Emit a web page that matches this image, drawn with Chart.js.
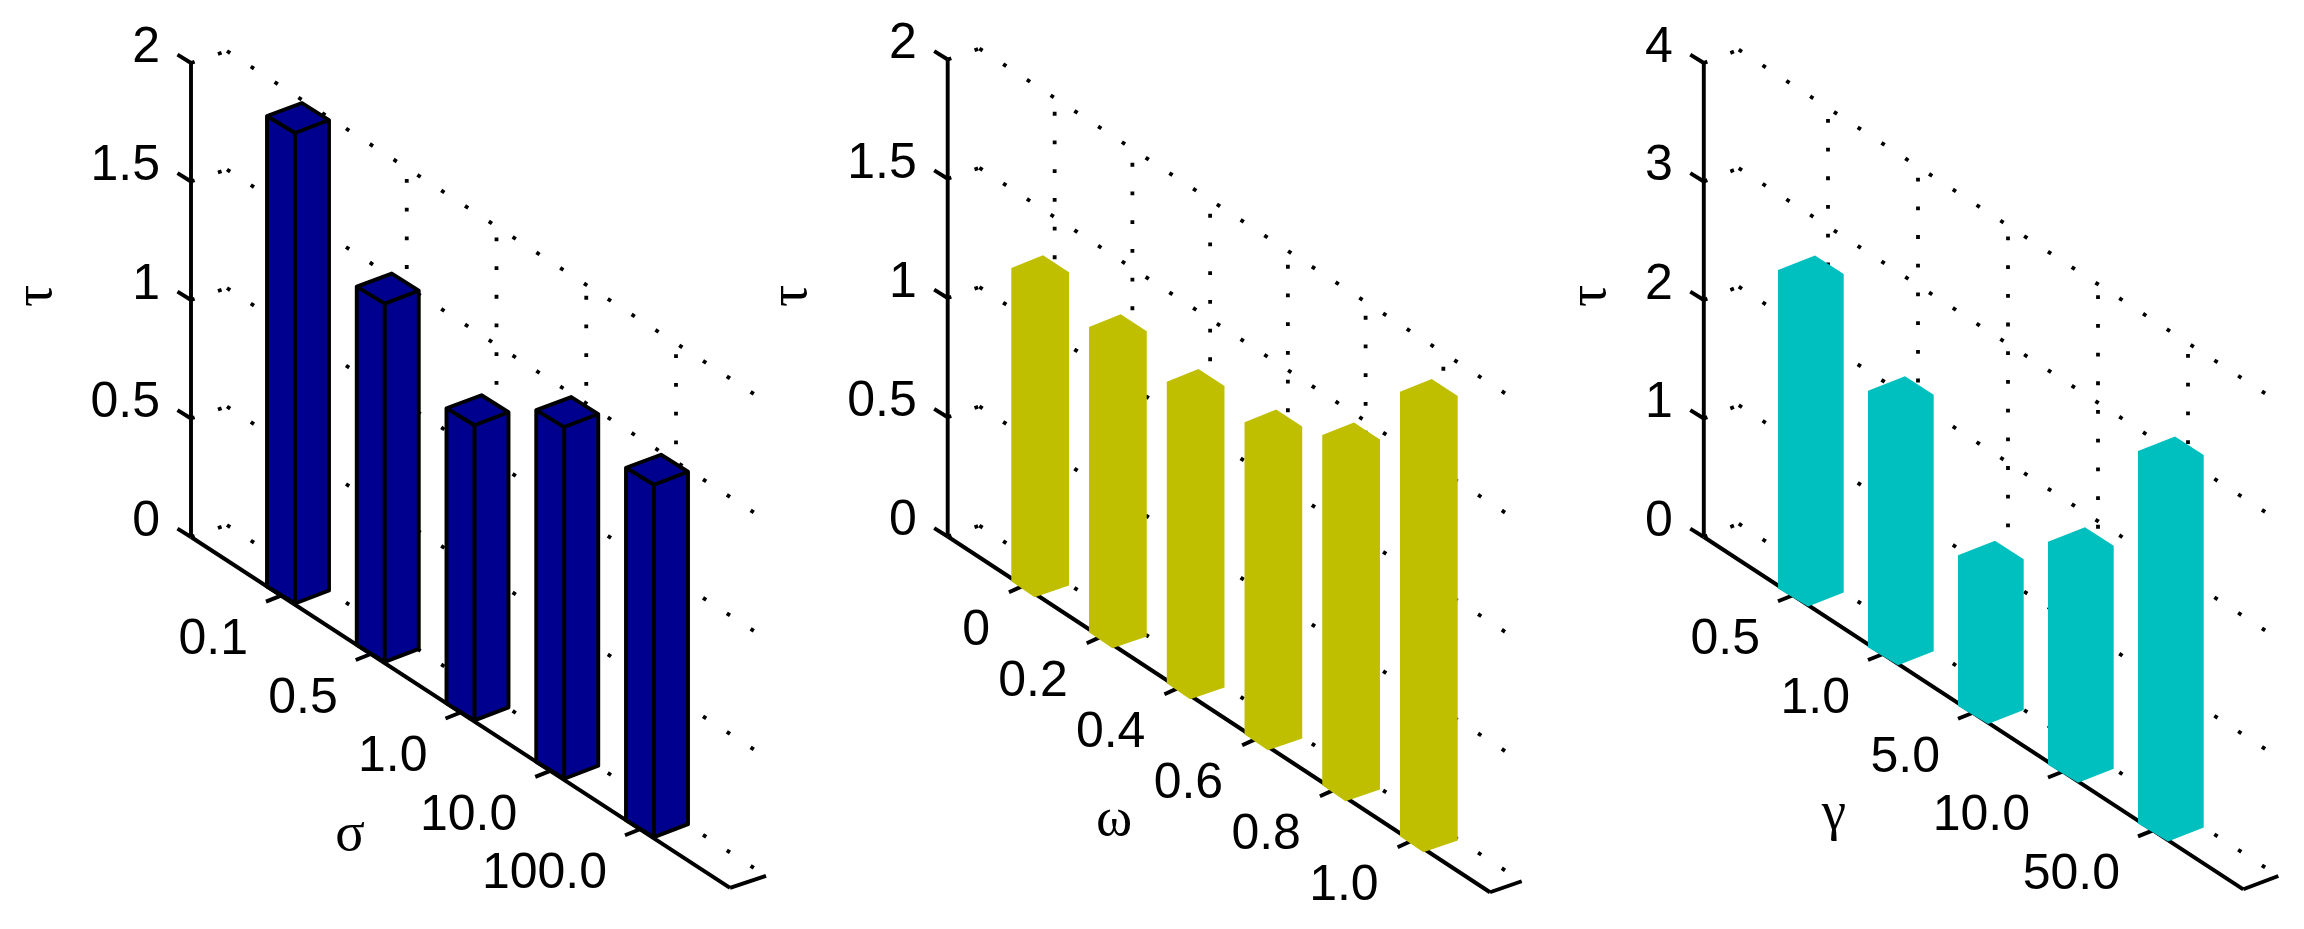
<!DOCTYPE html>
<html lang="en">
<head>
  <meta charset="UTF-8" />
  <title>Three 3D bar panels</title>
  <script src="https://cdn.jsdelivr.net/npm/chart.js"></script>
  <style>
    html, body { margin: 0; background: #fff; }
    #wrap { position: relative; width: 2304px; height: 929px; overflow: hidden; }
    canvas { position: absolute; top: 0; }
  </style>
</head>
<body>
<div id="wrap">
  <canvas id="sigmaChart" width="770" height="929" style="left:0"></canvas>
  <canvas id="omegaChart" width="768" height="929" style="left:770px"></canvas>
  <canvas id="gammaChart" width="766" height="929" style="left:1538px"></canvas>
</div>

<script>
  // values
  const sigmaLabels = ['0.1', '0.5', '1.0', '10.0', '100.0'];
  const sigmaTau = [1.985, 1.512, 1.245, 1.484, 1.487];
  const sigmaTicks = [0, 0.5, 1, 1.5, 2];

  const omegaLabels = ['0', '0.2', '0.4', '0.6', '0.8', '1.0'];
  const omegaTau = [1.313, 1.28, 1.264, 1.308, 1.468, 1.864];
  const omegaTicks = [0, 0.5, 1, 1.5, 2];

  const gammaLabels = ['0.5', '1.0', '5.0', '10.0', '50.0'];
  const gammaTau = [2.688, 2.165, 1.272, 1.882, 3.143];
  const gammaTicks = [0, 1, 2, 3, 4];

  const FONT = '50px "Liberation Sans"';
  const GREEK = '55px "Liberation Serif"';

  // skewed 3D look: x scale runs along the bars, y scale is tau sheared along the floor axis
  function makePanel(id, cfg) {
    const canvas = document.getElementById(id);
    const W = canvas.width, H = canvas.height;
    const s = cfg.spacing;
    const axisU = (cfg.axisX - cfg.bar0) / s;
    const endU = (cfg.endX - cfg.bar0) / s;
    const drop = cfg.slope * s / cfg.ppu;
    const tickU = (cfg.barW / 2 - cfg.f / 2) / s;
    const floorAt = i => -drop * (i - cfg.barW / 2 / s - axisU) - cfg.sink / cfg.ppu;

    const draw3d = {
      id: 'draw3d',
      beforeDatasetsDraw(chart) {
        const { ctx, scales: { x, y } } = chart;
        const pt = (u, t, dx = 0, dy = 0) => [
          x.getPixelForValue(u) + dx,
          y.getPixelForValue(t - drop * (u - axisU)) + dy
        ];
        const seg = (a, b, dash) => {
          ctx.setLineDash(dash || []);
          ctx.beginPath();
          ctx.moveTo(a[0], a[1]);
          ctx.lineTo(b[0], b[1]);
          ctx.stroke();
        };
        const [dx, dy] = cfg.depth;
        const topTick = cfg.ticks[cfg.ticks.length - 1];
        ctx.save();
        ctx.strokeStyle = '#000';

        // dotted walls
        ctx.lineWidth = 3.8;
        cfg.ticks.forEach(t => {
          seg(pt(axisU, t, dx, dy), pt(endU, t, dx, dy), [3.8, 24.6]);
          seg(pt(axisU, t), pt(axisU, t, dx, dy), [3.8, 24.6]);
        });
        cfg.labels.forEach((_, i) => {
          seg(pt(i - tickU, 0, dx, dy), pt(i - tickU, topTick, dx, dy), [3.8, 24.9]);
        });

        // solid axes and ticks
        ctx.lineWidth = 3.9;
        seg(pt(axisU, 0), [pt(axisU, 0)[0], y.getPixelForValue(topTick)]);
        seg(pt(axisU, 0), pt(endU, 0));
        seg(pt(endU, 0), pt(endU, 0, dx, dy));
        cfg.ticks.forEach(t => {
          seg(pt(axisU, t), pt(axisU, t, -13.5, -8.3));
        });
        cfg.labels.forEach((_, i) => {
          seg(pt(i - tickU, 0), pt(i - tickU, 0, cfg.tickVec[0], cfg.tickVec[1]));
        });
        ctx.setLineDash([]);

        // text
        ctx.fillStyle = '#000';
        ctx.font = FONT;
        ctx.textAlign = 'right';
        ctx.textBaseline = 'middle';
        cfg.ticks.forEach(t => {
          const p = pt(axisU, t);
          ctx.fillText(String(t), p[0] - 31, p[1] - 15);
        });
        cfg.labels.forEach((lab, i) => {
          const p = pt(i - tickU, 0);
          ctx.fillText(lab, p[0] - 33, p[1] + 45);
        });
        ctx.font = GREEK;
        ctx.textAlign = 'center';
        ctx.fillText(cfg.xTitle, cfg.xTitlePos[0] - cfg.left, cfg.xTitlePos[1]);
        ctx.save();
        ctx.translate(cfg.tauX - cfg.left, 296);
        ctx.rotate(-Math.PI / 2);
        ctx.fillText('τ', 0, 0);
        ctx.restore();
        ctx.restore();
      },
      // bars get the hexagon outline instead of the flat rectangle
      beforeDatasetDraw(chart, args) {
        const { ctx } = chart;
        const meta = chart.getDatasetMeta(args.index);
        ctx.save();
        meta.data.forEach(bar => {
          const p = bar.getProps(['x', 'y', 'base', 'width'], true);
          // a floating bar below zero comes back with y and base swapped
          const y = Math.min(p.y, p.base), base = Math.max(p.y, p.base);
          const l = p.x - p.width / 2, r = p.x + p.width / 2;
          ctx.fillStyle = bar.options.backgroundColor;
          ctx.beginPath();
          ctx.moveTo(l, y);
          ctx.lineTo(l + cfg.a, y - cfg.b);
          ctx.lineTo(r, y + cfg.c);
          ctx.lineTo(r, base + cfg.c);
          ctx.lineTo(l + cfg.f, base + cfg.e);
          ctx.lineTo(l, base);
          ctx.closePath();
          ctx.fill();
          if (cfg.edges) {
            ctx.strokeStyle = '#000';
            ctx.lineWidth = 3.9;
            ctx.lineJoin = 'round';
            ctx.stroke();
            ctx.beginPath();
            ctx.moveTo(l, y);
            ctx.lineTo(l + cfg.f, y + cfg.e);
            ctx.lineTo(r, y + cfg.c);
            ctx.moveTo(l + cfg.f, y + cfg.e);
            ctx.lineTo(l + cfg.f, base + cfg.e);
            ctx.stroke();
          }
        });
        ctx.restore();
        return false;
      }
    };

    return new Chart(canvas, {
      type: 'bar',
      data: {
        labels: cfg.labels,
        datasets: [{
          data: cfg.values.map((t, i) => ({ x: i, y: [floorAt(i), floorAt(i) + t] })),
          backgroundColor: cfg.color,
          barThickness: cfg.barW
        }]
      },
      options: {
        responsive: false,
        animation: false,
        layout: { padding: 0 },
        plugins: { legend: { display: false }, tooltip: { enabled: false } },
        scales: {
          x: {
            type: 'linear',
            display: false,
            offset: false,
            min: (cfg.left - cfg.bar0) / s,
            max: (cfg.left + W - cfg.bar0) / s
          },
          y: {
            type: 'linear',
            display: false,
            min: (cfg.axisY - H) / cfg.ppu,
            max: cfg.axisY / cfg.ppu
          }
        }
      },
      plugins: [draw3d]
    });
  }

  makePanel('sigmaChart', {
    labels: sigmaLabels, values: sigmaTau, ticks: sigmaTicks, color: '#00008f', edges: true,
    left: 0, bar0: 298, spacing: 89.75, axisX: 191, axisY: 537, endX: 730, slope: 0.651, ppu: 237,
    barW: 62, a: 35, b: 13, c: 4, f: 28, e: 17, sink: 0, depth: [36, -12], tickVec: [-15, 6],
    xTitle: 'σ', xTitlePos: [350, 836], tauX: 37
  });

  makePanel('omegaChart', {
    labels: omegaLabels, values: omegaTau, ticks: omegaTicks, color: '#bfbf00', edges: false,
    left: 770, bar0: 1040.15, spacing: 77.74, axisX: 947.7, axisY: 536.5, endX: 1490, slope: 0.656, ppu: 238.5,
    barW: 57.7, a: 31.7, b: 12.7, c: 4.3, f: 23.3, e: 16, sink: 3, depth: [31.7, -11], tickVec: [-14, 6.4],
    xTitle: 'ω', xTitlePos: [1114, 821], tauX: 792
  });

  makePanel('gammaChart', {
    labels: gammaLabels, values: gammaTau, ticks: gammaTicks, color: '#00bfbf', edges: false,
    left: 1538, bar0: 1810.85, spacing: 90, axisX: 1703.8, axisY: 537, endX: 2243.3, slope: 0.653, ppu: 118.5,
    barW: 65.7, a: 37, b: 14.5, c: 4, f: 30, e: 18, sink: 3, depth: [35, -13.3], tickVec: [-15, 6],
    xTitle: 'γ', xTitlePos: [1834, 815], tauX: 1591
  });
</script>
</body>
</html>
